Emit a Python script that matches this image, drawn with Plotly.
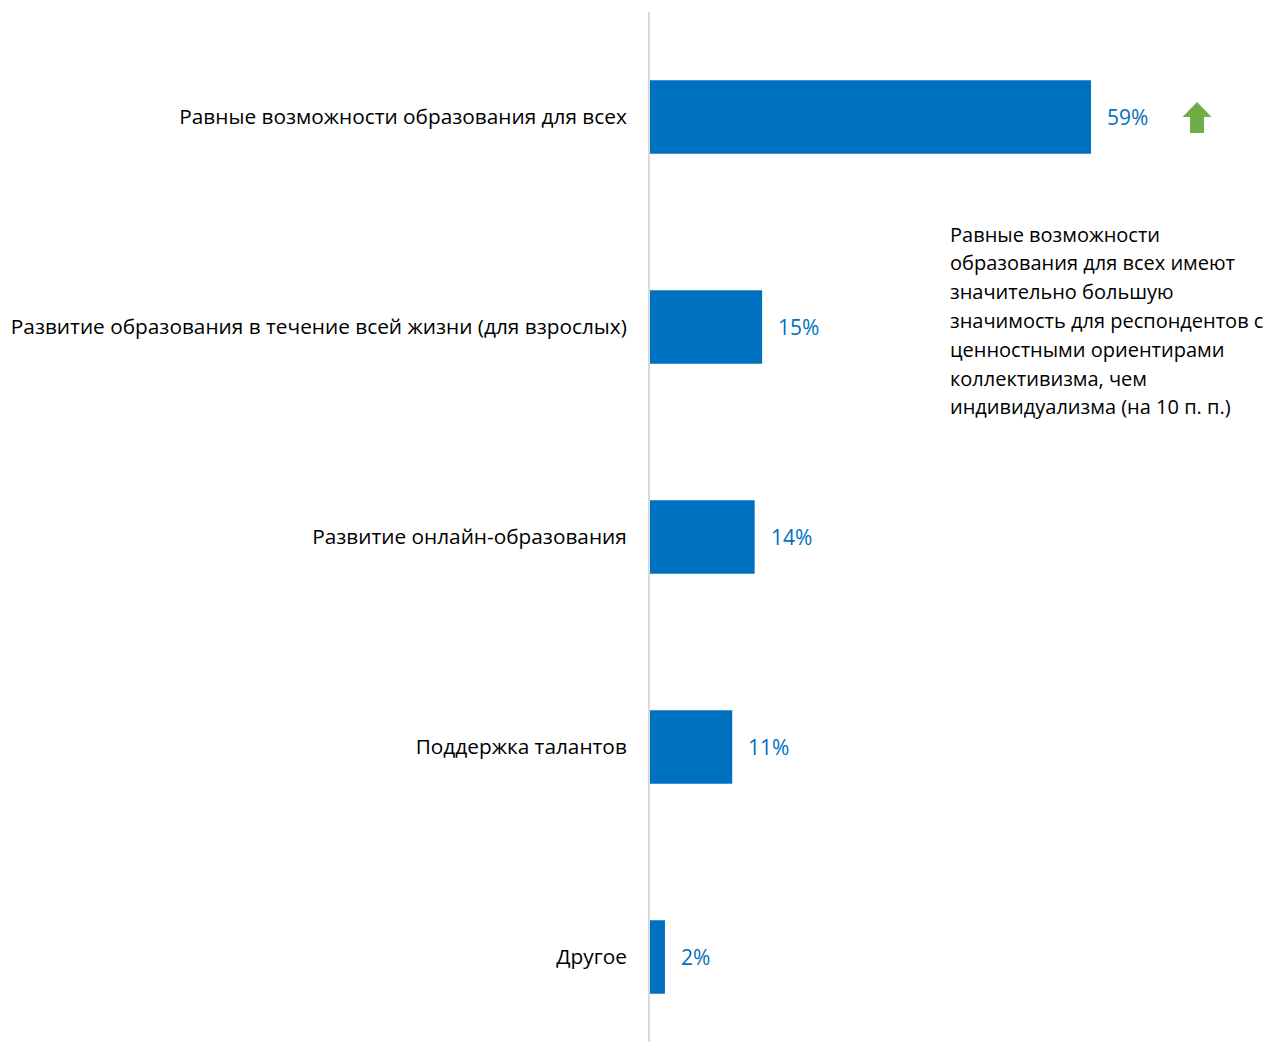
import plotly.graph_objects as go

categories = [
    "Равные возможности образования для всех",
    "Развитие образования в течение всей жизни (для взрослых)",
    "Развитие онлайн-образования",
    "Поддержка талантов",
    "Другое",
]
values = [59, 15, 14, 11, 2]
value_labels = ["59%", "15%", "14%", "11%", "2%"]
note_lines = [
    "Равные возможности",
    "образования для всех имеют",
    "значительно большую",
    "значимость для респондентов с",
    "ценностными ориентирами",
    "коллективизма, чем",
    "индивидуализма (на 10 п. п.)",
]

BLUE = "#0070C0"
FONT = "Open Sans"

# the page body adds an 8 px offset; keep the figure inside the window
W, H = 1261, 1034
L, T = 642, 4
PW = W - L             # plot width in px
PH = H - T             # plot height in px
PX_PER_PCT = 7.475
BAND = 210             # px per category

fig = go.Figure()
fig.add_trace(go.Bar(
    y=categories, x=values, orientation="h",
    marker=dict(color=BLUE, line=dict(width=0)),
    width=0.35, hoverinfo="skip",
))

for c, v, t in zip(categories, values, value_labels):
    fig.add_annotation(x=v, y=c, xref="x", yref="y", text=t, showarrow=False,
                       xanchor="left", yanchor="middle", xshift=14,
                       font=dict(family=FONT, size=21, color=BLUE))

# green up arrow next to the first bar
fig.add_shape(type="path", xref="x", yref="y",
              xsizemode="pixel", ysizemode="pixel",
              xanchor=values[0], yanchor=categories[0],
              path="M 106,15 L 120.5,0 L 113,0 L 113,-16 L 99,-16 L 99,0 L 91.5,0 Z",
              fillcolor="#70AD47", line=dict(width=0))

note_x, note_top, note_step = 948, 234, 28.8
for i, line in enumerate(note_lines):
    sy = note_top + i * note_step
    fig.add_annotation(x=(note_x - 650) / PW, y=1 - (sy - 12) / PH,
                       xref="paper", yref="paper",
                       text=line, showarrow=False, xanchor="left", yanchor="middle",
                       font=dict(family=FONT, size=20, color="#000000"))

fig.update_layout(
    width=W, height=H,
    margin=dict(l=L, r=0, t=T, b=0, pad=0),
    paper_bgcolor="white", plot_bgcolor="white",
    showlegend=False,
    font=dict(family=FONT, size=20.8, color="#000000"),
    xaxis=dict(range=[0, PW / PX_PER_PCT], visible=False, fixedrange=True),
    yaxis=dict(
        type="category", categoryorder="array", categoryarray=categories,
        range=[-0.5 + PH / BAND, -0.5],
        showline=True, linecolor="#D9D9D9", linewidth=2,
        showgrid=False, zeroline=False, ticks="",
        ticklabelstandoff=17,
        tickfont=dict(family=FONT, size=20.8, color="#000000"),
    ),
)

fig.write_html("out.html")
